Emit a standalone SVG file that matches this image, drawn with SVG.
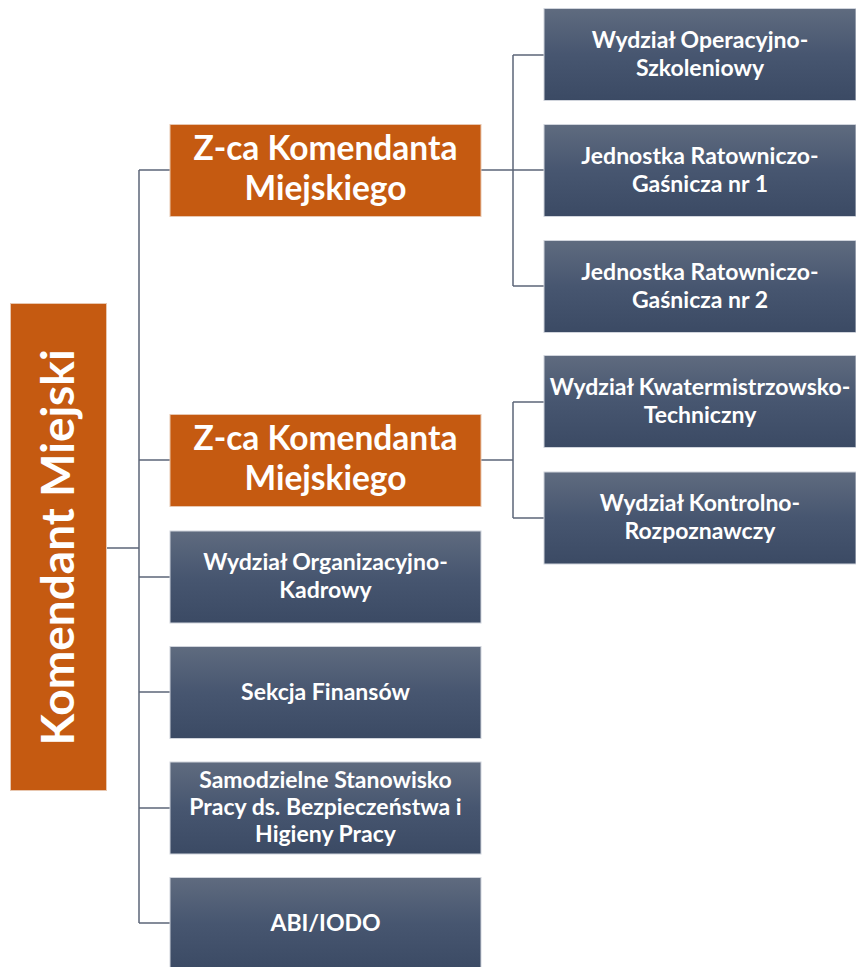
<svg xmlns="http://www.w3.org/2000/svg" width="856" height="967" viewBox="0 0 856 967">
<defs>
<linearGradient id="bg" x1="0" y1="0" x2="0" y2="1">
<stop offset="0" stop-color="#5f6b7f"/>
<stop offset="0.5" stop-color="#475670"/>
<stop offset="1" stop-color="#3b4a64"/>
</linearGradient>
<style>
.orange{fill:#c55a11;stroke:#e8c7b0;stroke-width:1}
.blue{fill:url(#bg);stroke:#d0d4dc;stroke-width:1}
.t{font-family:Lato,"Liberation Sans",sans-serif;font-weight:bold;fill:#ffffff;text-anchor:middle}
.ts{font-size:23px}
.to{font-size:33.5px}
.tk{font-size:46px}
.conn{fill:none;stroke:#5b6577;stroke-width:1.5}
</style>
</defs>
<rect width="856" height="967" fill="#ffffff"/>
<g id="connectors" class="conn">
<path d="M107,548 H139"/>
<path d="M139,170 V923"/>
<path d="M139,170 H170"/>
<path d="M139,460 H170"/>
<path d="M139,577 H170"/>
<path d="M139,692 H170"/>
<path d="M139,808 H170"/>
<path d="M139,923 H170"/>
<path d="M481,170 H544"/>
<path d="M513,55 V286"/>
<path d="M513,55 H544"/>
<path d="M513,286 H544"/>
<path d="M481,460 H513"/>
<path d="M513,402 V518"/>
<path d="M513,402 H544"/>
<path d="M513,518 H544"/>
</g>
<g id="komendant">
<rect class="orange" x="10.5" y="303.5" width="96" height="487"/>
<text class="t tk" transform="translate(74,547.5) rotate(-90)">Komendant Miejski</text>
</g>
<g id="zca1">
<rect class="orange" x="170" y="124.5" width="311" height="92"/>
<text class="t to" x="325.5" y="160">Z-ca Komendanta</text>
<text class="t to" x="325.5" y="200">Miejskiego</text>
</g>
<g id="zca2">
<rect class="orange" x="170" y="414.5" width="311" height="92"/>
<text class="t to" x="325.5" y="450">Z-ca Komendanta</text>
<text class="t to" x="325.5" y="490">Miejskiego</text>
</g>
<g id="org">
<rect class="blue" x="170" y="531" width="311" height="92"/>
<text class="t ts" x="325.5" y="570">Wydział Organizacyjno-</text>
<text class="t ts" x="325.5" y="598">Kadrowy</text>
</g>
<g id="fin">
<rect class="blue" x="170" y="646.5" width="311" height="92"/>
<text class="t ts" x="325.5" y="700">Sekcja Finansów</text>
</g>
<g id="bhp">
<rect class="blue" x="170" y="762" width="311" height="92"/>
<text class="t ts" x="325.5" y="788">Samodzielne Stanowisko</text>
<text class="t ts" x="325.5" y="815">Pracy ds. Bezpieczeństwa i</text>
<text class="t ts" x="325.5" y="842">Higieny Pracy</text>
</g>
<g id="abi">
<rect class="blue" x="170" y="877.5" width="311" height="92"/>
<text class="t ts" x="325.5" y="931">ABI/IODO</text>
</g>
<g id="wos">
<rect class="blue" x="544" y="8.5" width="312" height="92"/>
<text class="t ts" x="700" y="48">Wydział Operacyjno-</text>
<text class="t ts" x="700" y="76">Szkoleniowy</text>
</g>
<g id="jrg1">
<rect class="blue" x="544" y="124.5" width="312" height="92"/>
<text class="t ts" x="700" y="164">Jednostka Ratowniczo-</text>
<text class="t ts" x="700" y="192">Gaśnicza nr 1</text>
</g>
<g id="jrg2">
<rect class="blue" x="544" y="240.5" width="312" height="92"/>
<text class="t ts" x="700" y="280">Jednostka Ratowniczo-</text>
<text class="t ts" x="700" y="308">Gaśnicza nr 2</text>
</g>
<g id="wkt">
<rect class="blue" x="544" y="355.5" width="312" height="92"/>
<text class="t ts" x="700" y="395">Wydział Kwatermistrzowsko-</text>
<text class="t ts" x="700" y="423">Techniczny</text>
</g>
<g id="wkr">
<rect class="blue" x="544" y="472" width="312" height="92"/>
<text class="t ts" x="700" y="511">Wydział Kontrolno-</text>
<text class="t ts" x="700" y="539">Rozpoznawczy</text>
</g>
</svg>
